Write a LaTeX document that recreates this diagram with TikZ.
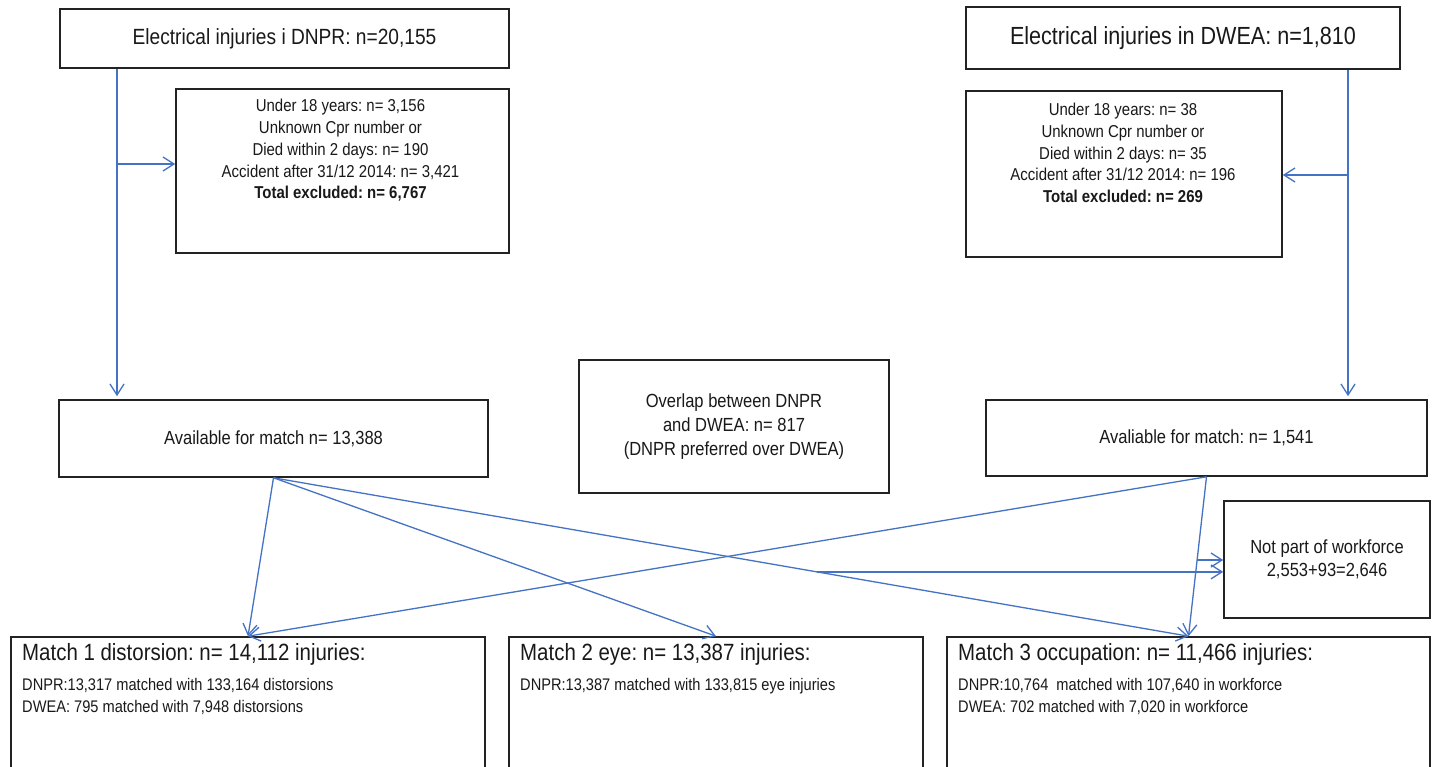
\documentclass[tikz,border=0pt]{standalone}
\usepackage{fontspec}
\setmainfont{Liberation Sans}[FakeStretch=0.87]
\usetikzlibrary{arrows.meta,calc}
\definecolor{lnblue}{RGB}{68,114,196}
\definecolor{bxline}{RGB}{35,35,35}
\newcommand{\fsz}[2]{\fontsize{#1}{#2}\selectfont}
\frenchspacing
\begin{document}
\begin{tikzpicture}[x=1pt,y=-1pt,
 box/.style={draw=bxline,line width=1.6pt,inner sep=0pt,fill=white},
 txt/.style={inner sep=0pt,align=center,text=black!90},
 btxt/.style={inner sep=0pt,anchor=base west,text=black!90},
 arr/.style={draw=lnblue,line width=1.3pt,-{Straight Barb[length=11pt,width=14pt,line width=1.3pt]}},
 ln/.style={draw=lnblue,line width=1.3pt}]
\fill[white] (0,0) rectangle (1432,767);
\useasboundingbox (0,0) rectangle (1432,767);
\clip (0,0) rectangle (1432,767);

% boxes
\node[box,minimum width=449pt,minimum height=59pt] (t1) at (284.5,38.5) {};
\node[box,minimum width=434pt,minimum height=62pt] (t2) at (1183,38) {};
\node[box,minimum width=333pt,minimum height=164pt] (e1) at (342.5,171) {};
\node[box,minimum width=316pt,minimum height=166pt] (e2) at (1124,174) {};
\node[box,minimum width=429pt,minimum height=77pt] (a1) at (273.5,438.5) {};
\node[box,minimum width=310pt,minimum height=133pt] (ov) at (734,426.5) {};
\node[box,minimum width=441pt,minimum height=76pt] (a2) at (1206.5,438) {};
\node[box,minimum width=206pt,minimum height=117pt] (np) at (1327,559.5) {};
\node[box,minimum width=474pt,minimum height=140pt] (m1) at (248,707) {};
\node[box,minimum width=414pt,minimum height=140pt] (m2) at (716,707) {};
\node[box,minimum width=483pt,minimum height=140pt] (m3) at (1188.5,707) {};

% texts
\node[txt,font=\fsz{22}{26}] (t1t) at (t1) {Electrical injuries i DNPR: n=20,155};
\node[txt,font=\fsz{24.8}{29}] (t2t) at (t2) {Electrical injuries in DWEA: n=1,810};
\node[txt,font=\fsz{17.2}{21.8}] (e1t) at (340.5,150.5) {Under 18 years: n= 3,156\\Unknown Cpr number or\\Died within 2 days: n= 190\\Accident after 31/12 2014: n= 3,421\\\textbf{Total excluded: n= 6,767}};
\node[txt,font=\fsz{17.2}{21.8}] (e2t) at (1123,153) {Under 18 years: n= 38\\Unknown Cpr number or\\Died within 2 days: n= 35\\Accident after 31/12 2014: n= 196\\\textbf{Total excluded: n= 269}};
\node[txt,font=\fsz{19}{23}] (a1t) at (a1) {Available for match n= 13,388};
\node[txt,font=\fsz{19}{24}] (ovt) at (ov) {Overlap between DNPR\\and DWEA: n= 817\\(DNPR preferred over DWEA)};
\node[txt,font=\fsz{19}{23}] (a2t) at (a2) {Avaliable for match: n= 1,541};
\node[txt,font=\fsz{19}{23}] (npt) at (np) {Not part of workforce\\2,553+93=2,646};

\node[btxt,font=\fsz{23.5}{28}] (m1h) at (22,660) {Match 1 distorsion: n= 14,112 injuries:};
\node[btxt,font=\fsz{16.8}{21}] (m1a) at (22,690) {DNPR:13,317 matched with 133,164 distorsions};
\node[btxt,font=\fsz{16.8}{21}] (m1b) at (22,712) {DWEA: 795 matched with 7,948 distorsions};
\node[btxt,font=\fsz{23.5}{28}] (m2h) at (520,660) {Match 2 eye: n= 13,387 injuries:};
\node[btxt,font=\fsz{16.8}{21}] (m2a) at (520,690) {DNPR:13,387 matched with 133,815 eye injuries};
\node[btxt,font=\fsz{23.5}{28}] (m3h) at (958,660) {Match 3 occupation: n= 11,466 injuries:};
\node[btxt,font=\fsz{16.8}{21}] (m3a) at (958,690) {DNPR:10,764~ matched with 107,640 in workforce};
\node[btxt,font=\fsz{16.8}{21}] (m3b) at (958,712) {DWEA: 702 matched with 7,020 in workforce};

% connectors
\draw[arr,shorten >=3pt] (117,0 |- t1.south) -- (117,0 |- a1.north);
\draw[arr] (117,164) -- (e1.west |- 0,164);
\draw[arr,shorten >=3pt] (1348,0 |- t2.south) -- (1348,0 |- a2.north);
\draw[arr] (1348,175) -- (e2.east |- 0,175);

\draw[arr] (a1.south) -- (m1.north);
\draw[arr] (a1.south) -- (m2.north);
\draw[arr] (a1.south) -- (m3.north);
\draw[arr] (a2.south) -- (m1.north);
\draw[arr] (a2.south) -- (m3.north);

\coordinate (p1) at ($(a2.south)!0.522!(m3.north)$);
\coordinate (p2) at ($(a1.south)!0.594!(m3.north)$);
\draw[arr] (p1) -- (np.west |- p1);
\draw[arr] (p2) -- (np.west |- p2);
\end{tikzpicture}
\end{document}
